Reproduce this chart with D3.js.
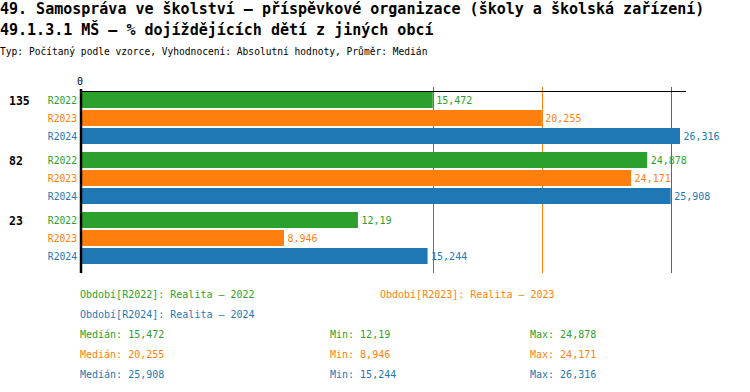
<!DOCTYPE html>
<html><head><meta charset="utf-8">
<script src="https://cdn.jsdelivr.net/npm/d3@7"></script>
<style>
html,body{margin:0;padding:0;background:#fff;}
text{font-family:"DejaVu Sans Mono",monospace;}
</style></head>
<body>
<svg id="c" width="750" height="392"></svg>
<script>
const title1 = "49. Samospráva ve školství – příspěvkové organizace (školy a školská zařízení)";
const title2 = "49.1.3.1 MŠ – % dojíždějících dětí z jiných obcí";
const subtitle = "Typ: Počítaný podle vzorce, Vyhodnocení: Absolutní hodnoty, Průměr: Medián";
const groups = ["135", "82", "23"];
const series = ["R2022", "R2023", "R2024"];
const seriesNames = ["Realita – 2022", "Realita – 2023", "Realita – 2024"];
const colors = ["#2ca02c", "#ff7f0e", "#1f77b4"];
const vR2022 = [15.472, 24.878, 12.19];
const vR2023 = [20.255, 24.171, 8.946];
const vR2024 = [26.316, 25.908, 15.244];
const medians = [15.472, 20.255, 25.908];
const mins = [12.19, 8.946, 15.244];
const maxs = [24.878, 24.171, 26.316];
const xTicks = [0];

const values = [vR2022, vR2023, vR2024];
const fmt = v => String(v).replace(".", ",");
const svg = d3.select("#c");

svg.append("text").attr("x", 0).attr("y", 9).attr("dominant-baseline", "central")
  .attr("font-size", "15px").attr("font-weight", "bold").text(title1);
svg.append("text").attr("x", 0).attr("y", 30).attr("dominant-baseline", "central")
  .attr("font-size", "15px").attr("font-weight", "bold").text(title2);
svg.append("text").attr("x", 0).attr("y", 51).attr("dominant-baseline", "central")
  .attr("font-size", "9.6px").text(subtitle);

const allMax = d3.max(values.flat());
const x = d3.scaleLinear().domain([0, allMax * 1.01]).range([80, 686]);
const y0 = d3.scaleBand().domain(groups).range([92, 272]).padding(0);
const y1 = d3.scaleBand().domain(series).range([0, 52]).paddingInner(2 / 18).paddingOuter(0);

// median lines
svg.selectAll("line.med").data(medians).enter().append("line")
  .attr("x1", d => Math.round(x(d)) + 0.5).attr("x2", d => Math.round(x(d)) + 0.5)
  .attr("y1", 87).attr("y2", 273)
  .attr("stroke", (d, i) => colors[i]).attr("stroke-width", 1);

// bars
groups.forEach((g, gi) => {
  series.forEach((s, si) => {
    const v = values[si][gi];
    const yy = y0(g) + y1(s);
    svg.append("rect").attr("x", x(0)).attr("y", yy)
      .attr("width", x(v) - x(0)).attr("height", y1.bandwidth())
      .attr("fill", colors[si]);
    svg.append("text").attr("x", x(v) + 3.5).attr("y", yy + y1.bandwidth() / 2 + 0.5)
      .attr("dominant-baseline", "central").attr("font-size", "10px")
      .attr("fill", colors[si]).text(fmt(v));
    svg.append("text").attr("x", 77).attr("y", yy + y1.bandwidth() / 2 + 0.5)
      .attr("dominant-baseline", "central").attr("text-anchor", "end").attr("font-size", "9.7px")
      .attr("fill", colors[si]).text(s);
  });
  svg.append("text").attr("x", 9).attr("y", y0(g) + y1.bandwidth() / 2 + 0.5)
    .attr("dominant-baseline", "central").attr("font-size", "11.5px").attr("font-weight", "bold")
    .attr("fill", "#000").text(g);
});

// axes
svg.append("line").attr("x1", 80).attr("x2", 686).attr("y1", 91.5).attr("y2", 91.5)
  .attr("stroke", "#000").attr("stroke-width", 1);
svg.append("line").attr("x1", 81).attr("x2", 81).attr("y1", 89).attr("y2", 273)
  .attr("stroke", "#000").attr("stroke-width", 2.5);
svg.selectAll("text.tick").data(xTicks).enter().append("text")
  .attr("x", d => x(d)).attr("y", 81).attr("text-anchor", "middle")
  .attr("dominant-baseline", "central").attr("font-size", "10px").text(d => d);

// legend
const legPos = [[80, 294], [380, 294], [80, 314]];
series.forEach((s, i) => {
  svg.append("text").attr("x", legPos[i][0]).attr("y", legPos[i][1])
    .attr("dominant-baseline", "central").attr("font-size", "10px")
    .attr("fill", colors[i]).text(`Období[${s}]: ${seriesNames[i]}`);
  const ry = 334 + i * 20;
  svg.append("text").attr("x", 80).attr("y", ry).attr("dominant-baseline", "central")
    .attr("font-size", "10px").attr("fill", colors[i]).text(`Medián: ${fmt(medians[i])}`);
  svg.append("text").attr("x", 330).attr("y", ry).attr("dominant-baseline", "central")
    .attr("font-size", "10px").attr("fill", colors[i]).text(`Min: ${fmt(mins[i])}`);
  svg.append("text").attr("x", 530).attr("y", ry).attr("dominant-baseline", "central")
    .attr("font-size", "10px").attr("fill", colors[i]).text(`Max: ${fmt(maxs[i])}`);
});
</script>
</body></html>
